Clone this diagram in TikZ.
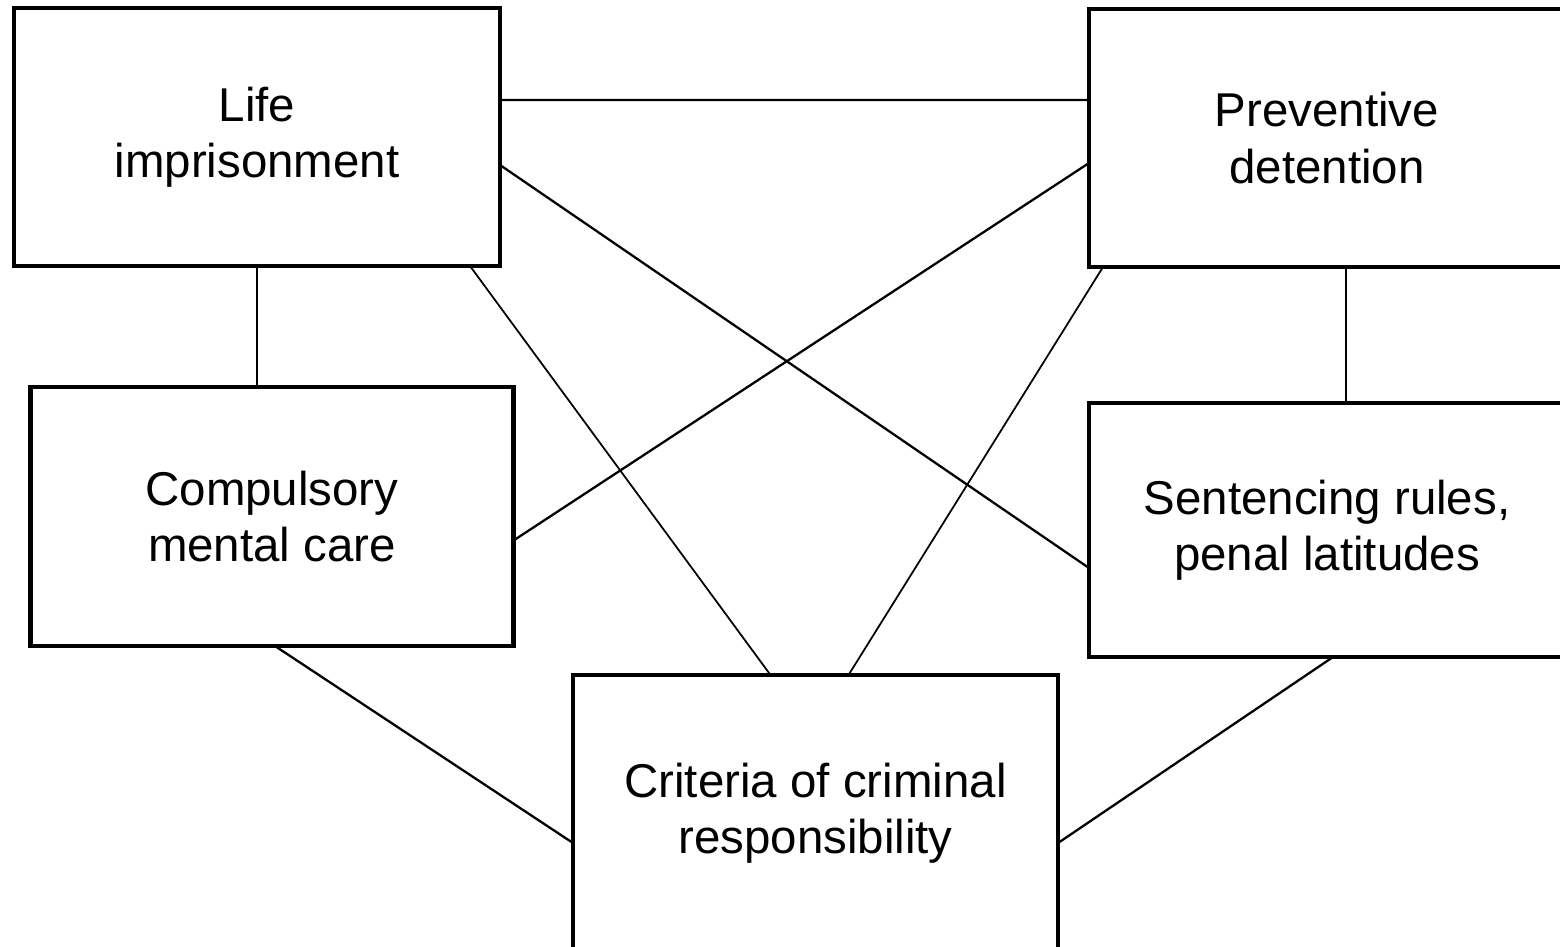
\documentclass[tikz,border=0pt]{standalone}
\usepackage{fontspec}
\setmainfont{Liberation Sans}
\begin{document}
\begin{tikzpicture}[box/.style={draw, line width=1.4pt, outer sep=0pt, align=center,
    font=\fontsize{13.5}{16}\selectfont}, link/.style={draw, line width=0.65pt, -}]
\useasboundingbox (0,0) rectangle (15.6,9.46);
\node[box, minimum width=4.86cm, minimum height=2.58cm] (1) at (2.57,8.09) {Life\\imprisonment};
\node[box, minimum width=4.76cm, minimum height=2.58cm] (2) at (13.27,8.08) {Preventive\\detention};
\node[box, minimum width=4.83cm, minimum height=2.59cm] (3) at (2.72,4.295) {Compulsory\\mental care};
\node[box, minimum width=4.76cm, minimum height=2.54cm] (4) at (13.27,4.16) {Sentencing rules,\\penal latitudes};
\node[box, minimum width=4.85cm, minimum height=2.76cm] (5) at (8.155,1.33) {Criteria of criminal\\responsibility};
\path[link] ([yshift=0.37cm]1.east) -- ([yshift=0.38cm]2.west);
\path[link] ([yshift=-0.28cm]1.east) -- ([yshift=-0.38cm]4.west);
\path[link, line width=0.5pt] ([xshift=2.13cm]1.south) -- ([xshift=-0.45cm]5.north);
\path[link] (1.south) -- (1.south |- 3.north);
\path[link] ([yshift=-0.25cm]2.west) -- ([yshift=-0.24cm]3.east);
\path[link, line width=0.5pt] ([xshift=-2.24cm]2.south) -- ([xshift=0.33cm]5.north);
\path[link] ([xshift=0.19cm]2.south) -- ([xshift=0.19cm]4.north);
\path[link] ([xshift=0.03cm]3.south) -- ([yshift=-0.30cm]5.west);
\path[link] ([xshift=0.06cm]4.south) -- ([yshift=-0.30cm]5.east);
\end{tikzpicture}
\end{document}
